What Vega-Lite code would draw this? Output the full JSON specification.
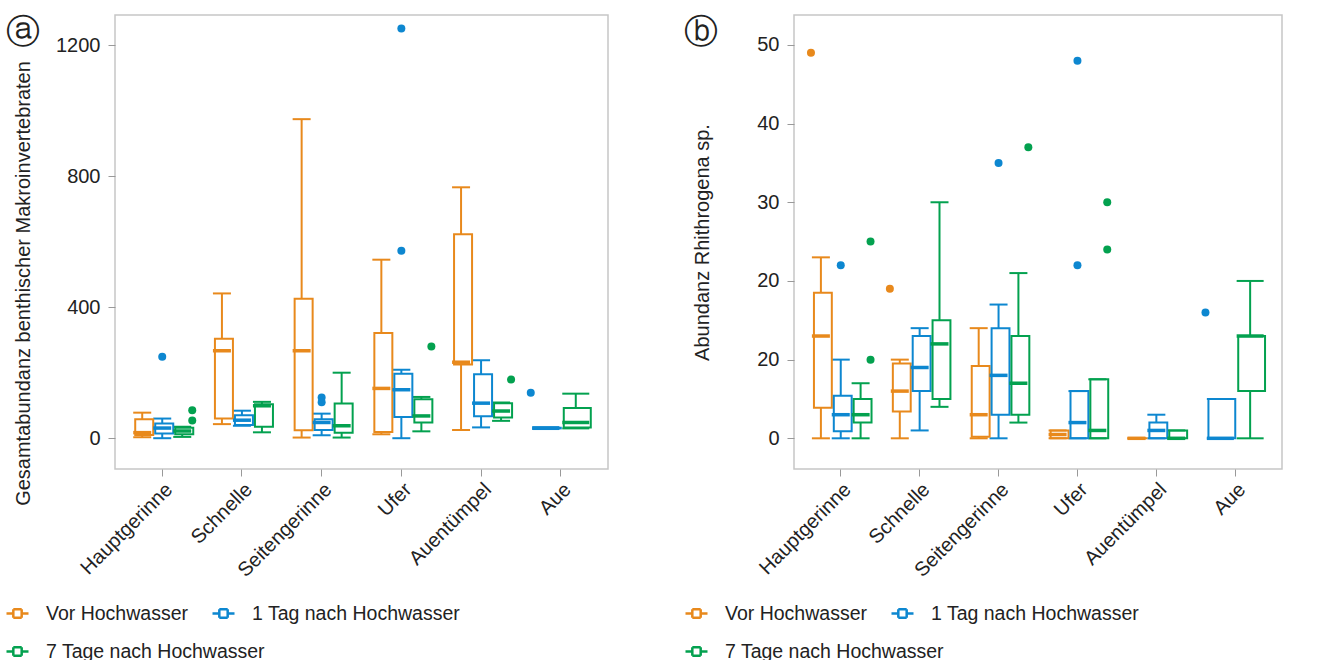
{
  "$schema": "https://vega.github.io/schema/vega-lite/v6.json",
  "padding": {"left": 4, "top": 14, "right": 0, "bottom": 0},
  "spacing": 74,
  "config": {
    "font": "Liberation Sans",
    "view": {"stroke": "#c6c6c6", "strokeWidth": 1.5},
    "axis": {"domain": false, "grid": false, "tickColor": "#999999", "tickSize": 7, "tickWidth": 1, "labelFontSize": 20, "labelColor": "#222222", "titleFontSize": 20, "titleFontWeight": "normal", "titleColor": "#222222", "labelFont": "Liberation Sans", "titleFont": "Liberation Sans"},
    "axisX": {"labelAngle": -45, "labelPadding": 3, "title": null},
    "axisY": {"labelPadding": 8, "format": "d"},
    "title": {"font": "DejaVu Sans", "fontSize": 34, "fontWeight": "normal", "color": "#222222"},
    "legend": {"title": null, "orient": "none", "direction": "horizontal", "padding": 0, "symbolType": "M-1,0H-0.38M0.38,0H1M-0.38,-0.38H0.38M0.38,-0.38V0.38M0.38,0.38H-0.38M-0.38,0.38V-0.38", "symbolSize": 484, "symbolStrokeWidth": 2.5, "labelFontSize": 19.5, "labelFont": "Liberation Sans", "labelColor": "#222222", "labelOffset": 16, "columnPadding": 19, "labelLimit": 400},
    "tick": {"opacity": 1},
    "point": {"opacity": 1},
    "bar": {"opacity": 1},
    "rule": {"opacity": 1}
  },
  "datasets": {
    "boxes": [
      {"panel": "a", "habitat": "Hauptgerinne", "group": "Vor Hochwasser", "min": 3, "q1": 10, "median": 17, "q3": 58, "max": 78},
      {"panel": "a", "habitat": "Hauptgerinne", "group": "1 Tag nach Hochwasser", "min": 0, "q1": 14, "median": 31, "q3": 45, "max": 60},
      {"panel": "a", "habitat": "Hauptgerinne", "group": "7 Tage nach Hochwasser", "min": 4, "q1": 12, "median": 22, "q3": 32, "max": 35},
      {"panel": "a", "habitat": "Schnelle", "group": "Vor Hochwasser", "min": 43, "q1": 60, "median": 267, "q3": 304, "max": 442},
      {"panel": "a", "habitat": "Schnelle", "group": "1 Tag nach Hochwasser", "min": 38, "q1": 40, "median": 55, "q3": 70, "max": 84},
      {"panel": "a", "habitat": "Schnelle", "group": "7 Tage nach Hochwasser", "min": 18, "q1": 35, "median": 99, "q3": 104, "max": 111},
      {"panel": "a", "habitat": "Seitengerinne", "group": "Vor Hochwasser", "min": 2, "q1": 24, "median": 267, "q3": 426, "max": 974},
      {"panel": "a", "habitat": "Seitengerinne", "group": "1 Tag nach Hochwasser", "min": 9, "q1": 25, "median": 48, "q3": 58, "max": 75},
      {"panel": "a", "habitat": "Seitengerinne", "group": "7 Tage nach Hochwasser", "min": 2, "q1": 17, "median": 38, "q3": 106, "max": 200},
      {"panel": "a", "habitat": "Ufer", "group": "Vor Hochwasser", "min": 12, "q1": 19, "median": 152, "q3": 321, "max": 545},
      {"panel": "a", "habitat": "Ufer", "group": "1 Tag nach Hochwasser", "min": 0, "q1": 65, "median": 148, "q3": 197, "max": 209},
      {"panel": "a", "habitat": "Ufer", "group": "7 Tage nach Hochwasser", "min": 21, "q1": 48, "median": 68, "q3": 119, "max": 126},
      {"panel": "a", "habitat": "Auentümpel", "group": "Vor Hochwasser", "min": 25, "q1": 225, "median": 232, "q3": 623, "max": 766},
      {"panel": "a", "habitat": "Auentümpel", "group": "1 Tag nach Hochwasser", "min": 33, "q1": 67, "median": 107, "q3": 195, "max": 238},
      {"panel": "a", "habitat": "Auentümpel", "group": "7 Tage nach Hochwasser", "min": 53, "q1": 63, "median": 83, "q3": 107, "max": 109},
      {"panel": "a", "habitat": "Aue", "group": "1 Tag nach Hochwasser", "min": 28, "q1": 30, "median": 31, "q3": 32, "max": 33},
      {"panel": "a", "habitat": "Aue", "group": "7 Tage nach Hochwasser", "min": 30, "q1": 33, "median": 48, "q3": 92, "max": 136},
      {"panel": "b", "habitat": "Hauptgerinne", "group": "Vor Hochwasser", "min": 0, "q1": 3.9, "median": 13, "q3": 18.5, "max": 23},
      {"panel": "b", "habitat": "Hauptgerinne", "group": "1 Tag nach Hochwasser", "min": 0, "q1": 0.9, "median": 3, "q3": 5.4, "max": 10},
      {"panel": "b", "habitat": "Hauptgerinne", "group": "7 Tage nach Hochwasser", "min": 0, "q1": 2, "median": 3, "q3": 5, "max": 7},
      {"panel": "b", "habitat": "Schnelle", "group": "Vor Hochwasser", "min": 0, "q1": 3.4, "median": 6, "q3": 9.5, "max": 10},
      {"panel": "b", "habitat": "Schnelle", "group": "1 Tag nach Hochwasser", "min": 1, "q1": 6, "median": 9, "q3": 13, "max": 14},
      {"panel": "b", "habitat": "Schnelle", "group": "7 Tage nach Hochwasser", "min": 4, "q1": 5, "median": 12, "q3": 15, "max": 30},
      {"panel": "b", "habitat": "Seitengerinne", "group": "Vor Hochwasser", "min": 0, "q1": 0.2, "median": 3, "q3": 9.2, "max": 14},
      {"panel": "b", "habitat": "Seitengerinne", "group": "1 Tag nach Hochwasser", "min": 0, "q1": 3, "median": 8, "q3": 14, "max": 17},
      {"panel": "b", "habitat": "Seitengerinne", "group": "7 Tage nach Hochwasser", "min": 2, "q1": 3, "median": 7, "q3": 13, "max": 21},
      {"panel": "b", "habitat": "Ufer", "group": "Vor Hochwasser", "min": 0, "q1": 0, "median": 0.5, "q3": 1, "max": 1},
      {"panel": "b", "habitat": "Ufer", "group": "1 Tag nach Hochwasser", "min": 0, "q1": 0, "median": 2, "q3": 6, "max": 6},
      {"panel": "b", "habitat": "Ufer", "group": "7 Tage nach Hochwasser", "min": 0, "q1": 0, "median": 1, "q3": 7.5, "max": 7.5},
      {"panel": "b", "habitat": "Auentümpel", "group": "Vor Hochwasser", "min": 0, "q1": 0, "median": 0, "q3": 0, "max": 0},
      {"panel": "b", "habitat": "Auentümpel", "group": "1 Tag nach Hochwasser", "min": 0, "q1": 0, "median": 1, "q3": 2, "max": 3},
      {"panel": "b", "habitat": "Auentümpel", "group": "7 Tage nach Hochwasser", "min": 0, "q1": 0, "median": 0, "q3": 1, "max": 1},
      {"panel": "b", "habitat": "Aue", "group": "1 Tag nach Hochwasser", "min": 0, "q1": 0, "median": 0, "q3": 5, "max": 5},
      {"panel": "b", "habitat": "Aue", "group": "7 Tage nach Hochwasser", "min": 0, "q1": 6, "median": 13, "q3": 13, "max": 20}
    ],
    "outliers": [
      {"panel": "a", "habitat": "Hauptgerinne", "group": "1 Tag nach Hochwasser", "value": 249},
      {"panel": "a", "habitat": "Hauptgerinne", "group": "7 Tage nach Hochwasser", "value": 85},
      {"panel": "a", "habitat": "Hauptgerinne", "group": "7 Tage nach Hochwasser", "value": 54},
      {"panel": "a", "habitat": "Seitengerinne", "group": "1 Tag nach Hochwasser", "value": 124},
      {"panel": "a", "habitat": "Seitengerinne", "group": "1 Tag nach Hochwasser", "value": 110},
      {"panel": "a", "habitat": "Ufer", "group": "1 Tag nach Hochwasser", "value": 572},
      {"panel": "a", "habitat": "Ufer", "group": "1 Tag nach Hochwasser", "value": 1251},
      {"panel": "a", "habitat": "Ufer", "group": "7 Tage nach Hochwasser", "value": 280},
      {"panel": "a", "habitat": "Auentümpel", "group": "7 Tage nach Hochwasser", "value": 179},
      {"panel": "a", "habitat": "Aue", "group": "1 Tag nach Hochwasser", "value": 139},
      {"panel": "b", "habitat": "Hauptgerinne", "group": "Vor Hochwasser", "value": 49},
      {"panel": "b", "habitat": "Hauptgerinne", "group": "1 Tag nach Hochwasser", "value": 22},
      {"panel": "b", "habitat": "Hauptgerinne", "group": "7 Tage nach Hochwasser", "value": 25},
      {"panel": "b", "habitat": "Hauptgerinne", "group": "7 Tage nach Hochwasser", "value": 10},
      {"panel": "b", "habitat": "Schnelle", "group": "Vor Hochwasser", "value": 19},
      {"panel": "b", "habitat": "Seitengerinne", "group": "1 Tag nach Hochwasser", "value": 35},
      {"panel": "b", "habitat": "Seitengerinne", "group": "7 Tage nach Hochwasser", "value": 37},
      {"panel": "b", "habitat": "Ufer", "group": "1 Tag nach Hochwasser", "value": 48},
      {"panel": "b", "habitat": "Ufer", "group": "1 Tag nach Hochwasser", "value": 22},
      {"panel": "b", "habitat": "Ufer", "group": "7 Tage nach Hochwasser", "value": 30},
      {"panel": "b", "habitat": "Ufer", "group": "7 Tage nach Hochwasser", "value": 24},
      {"panel": "b", "habitat": "Aue", "group": "1 Tag nach Hochwasser", "value": 16}
    ]
  },
  "resolve": {"scale": {"x": "independent", "y": "independent", "color": "independent", "stroke": "independent", "xOffset": "independent"}, "legend": {"color": "independent", "stroke": "independent"}},
  "hconcat": [
    {
      "width": 493, "height": 454,
      "title": {"text": "ⓐ", "anchor": "start", "frame": "bounds", "orient": "top", "offset": -35, "dx": 1},
      "encoding": {
        "x": {"field": "habitat", "type": "nominal", "scale": {"domain": ["Hauptgerinne", "Schnelle", "Seitengerinne", "Ufer", "Auentümpel", "Aue"], "paddingInner": 0.247, "paddingOuter": 0.216}, "axis": {"title": null}},
        "color": {"field": "group", "type": "nominal", "scale": {"domain": ["Vor Hochwasser", "1 Tag nach Hochwasser", "7 Tage nach Hochwasser"], "range": ["#E8891C", "#0D87D0", "#03A14F"]},
          "legend": {"values": ["Vor Hochwasser", "1 Tag nach Hochwasser"], "legendX": -110, "legendY": 586}}
      },
      "resolve": {"scale": {"xOffset": "independent"}},
      "layer": [
        {"data": {"name": "boxes"}, "transform": [{"filter": "datum.panel=='a' && datum.habitat!='Aue'"}], "mark": {"type": "rule", "strokeWidth": 2},
         "encoding": {"xOffset": {"field": "group", "type": "nominal", "scale": {"domain": ["Vor Hochwasser", "1 Tag nach Hochwasser", "7 Tage nach Hochwasser"], "paddingInner": 0, "paddingOuter": 0}},
           "y": {"field": "min", "type": "quantitative", "scale": {"domain": [-94, 1292], "nice": false, "zero": false}, "axis": {"title": "Gesamtabundanz benthischer Makroinvertebraten", "values": [0, 400, 800, 1200], "minExtent": 62, "maxExtent": 62, "titlePadding": 20, "titleY": 268}},
           "y2": {"field": "q1"}}},
        {"data": {"name": "boxes"}, "transform": [{"filter": "datum.panel=='a' && datum.habitat!='Aue'"}], "mark": {"type": "rule", "strokeWidth": 2},
         "encoding": {"xOffset": {"field": "group", "type": "nominal", "scale": {"domain": ["Vor Hochwasser", "1 Tag nach Hochwasser", "7 Tage nach Hochwasser"], "paddingInner": 0, "paddingOuter": 0}},
           "y": {"field": "q3", "type": "quantitative", "scale": {"domain": [-94, 1292], "nice": false, "zero": false}, "axis": {"title": "Gesamtabundanz benthischer Makroinvertebraten", "values": [0, 400, 800, 1200], "minExtent": 62, "maxExtent": 62, "titlePadding": 20, "titleY": 268}},
           "y2": {"field": "max"}}},
        {"data": {"name": "boxes"}, "transform": [{"filter": "datum.panel=='a' && datum.habitat!='Aue'"}], "mark": {"type": "tick", "thickness": 2, "size": 18},
         "encoding": {"xOffset": {"field": "group", "type": "nominal", "scale": {"domain": ["Vor Hochwasser", "1 Tag nach Hochwasser", "7 Tage nach Hochwasser"], "paddingInner": 0, "paddingOuter": 0}},
           "y": {"field": "min", "type": "quantitative", "scale": {"domain": [-94, 1292], "nice": false, "zero": false}, "axis": {"title": "Gesamtabundanz benthischer Makroinvertebraten", "values": [0, 400, 800, 1200], "minExtent": 62, "maxExtent": 62, "titlePadding": 20, "titleY": 268}}}},
        {"data": {"name": "boxes"}, "transform": [{"filter": "datum.panel=='a' && datum.habitat!='Aue'"}], "mark": {"type": "tick", "thickness": 2, "size": 18},
         "encoding": {"xOffset": {"field": "group", "type": "nominal", "scale": {"domain": ["Vor Hochwasser", "1 Tag nach Hochwasser", "7 Tage nach Hochwasser"], "paddingInner": 0, "paddingOuter": 0}},
           "y": {"field": "max", "type": "quantitative", "scale": {"domain": [-94, 1292], "nice": false, "zero": false}, "axis": {"title": "Gesamtabundanz benthischer Makroinvertebraten", "values": [0, 400, 800, 1200], "minExtent": 62, "maxExtent": 62, "titlePadding": 20, "titleY": 268}}}},
        {"data": {"name": "boxes"}, "transform": [{"filter": "datum.panel=='a' && datum.habitat!='Aue'"}], "mark": {"type": "bar", "filled": false, "strokeWidth": 2, "width": {"band": 0.9}},
         "encoding": {"xOffset": {"field": "group", "type": "nominal", "scale": {"domain": ["Vor Hochwasser", "1 Tag nach Hochwasser", "7 Tage nach Hochwasser"], "paddingInner": 0, "paddingOuter": 0}},
           "stroke": {"field": "group", "type": "nominal", "scale": {"domain": ["7 Tage nach Hochwasser", "Vor Hochwasser", "1 Tag nach Hochwasser"], "range": ["#03A14F", "#E8891C", "#0D87D0"]},
             "legend": {"values": ["7 Tage nach Hochwasser"], "legendX": -110, "legendY": 624}},
           "y": {"field": "q1", "type": "quantitative", "scale": {"domain": [-94, 1292], "nice": false, "zero": false}, "axis": {"title": "Gesamtabundanz benthischer Makroinvertebraten", "values": [0, 400, 800, 1200], "minExtent": 62, "maxExtent": 62, "titlePadding": 20, "titleY": 268}},
           "y2": {"field": "q3"}}},
        {"data": {"name": "boxes"}, "transform": [{"filter": "datum.panel=='a' && datum.habitat!='Aue'"}], "mark": {"type": "tick", "thickness": 3.5, "size": 18},
         "encoding": {"xOffset": {"field": "group", "type": "nominal", "scale": {"domain": ["Vor Hochwasser", "1 Tag nach Hochwasser", "7 Tage nach Hochwasser"], "paddingInner": 0, "paddingOuter": 0}},
           "y": {"field": "median", "type": "quantitative", "scale": {"domain": [-94, 1292], "nice": false, "zero": false}, "axis": {"title": "Gesamtabundanz benthischer Makroinvertebraten", "values": [0, 400, 800, 1200], "minExtent": 62, "maxExtent": 62, "titlePadding": 20, "titleY": 268}}}},
        {"data": {"name": "outliers"}, "transform": [{"filter": "datum.panel=='a' && datum.habitat!='Aue'"}], "mark": {"type": "point", "filled": true, "size": 64, "opacity": 1},
         "encoding": {"xOffset": {"field": "group", "type": "nominal", "scale": {"domain": ["Vor Hochwasser", "1 Tag nach Hochwasser", "7 Tage nach Hochwasser"], "paddingInner": 0, "paddingOuter": 0}},
           "y": {"field": "value", "type": "quantitative", "scale": {"domain": [-94, 1292], "nice": false, "zero": false}, "axis": {"title": "Gesamtabundanz benthischer Makroinvertebraten", "values": [0, 400, 800, 1200], "minExtent": 62, "maxExtent": 62, "titlePadding": 20, "titleY": 268}}}},
        {"data": {"name": "boxes"}, "transform": [{"filter": "datum.panel=='a' && datum.habitat=='Aue'"}], "mark": {"type": "rule", "strokeWidth": 2},
         "encoding": {"xOffset": {"field": "group", "type": "nominal", "scale": {"domain": ["1 Tag nach Hochwasser", "7 Tage nach Hochwasser"], "paddingInner": 0, "paddingOuter": 0}},
           "y": {"field": "min", "type": "quantitative", "scale": {"domain": [-94, 1292], "nice": false, "zero": false}, "axis": {"title": "Gesamtabundanz benthischer Makroinvertebraten", "values": [0, 400, 800, 1200], "minExtent": 62, "maxExtent": 62, "titlePadding": 20, "titleY": 268}},
           "y2": {"field": "q1"}}},
        {"data": {"name": "boxes"}, "transform": [{"filter": "datum.panel=='a' && datum.habitat=='Aue'"}], "mark": {"type": "rule", "strokeWidth": 2},
         "encoding": {"xOffset": {"field": "group", "type": "nominal", "scale": {"domain": ["1 Tag nach Hochwasser", "7 Tage nach Hochwasser"], "paddingInner": 0, "paddingOuter": 0}},
           "y": {"field": "q3", "type": "quantitative", "scale": {"domain": [-94, 1292], "nice": false, "zero": false}, "axis": {"title": "Gesamtabundanz benthischer Makroinvertebraten", "values": [0, 400, 800, 1200], "minExtent": 62, "maxExtent": 62, "titlePadding": 20, "titleY": 268}},
           "y2": {"field": "max"}}},
        {"data": {"name": "boxes"}, "transform": [{"filter": "datum.panel=='a' && datum.habitat=='Aue'"}], "mark": {"type": "tick", "thickness": 2, "size": 27},
         "encoding": {"xOffset": {"field": "group", "type": "nominal", "scale": {"domain": ["1 Tag nach Hochwasser", "7 Tage nach Hochwasser"], "paddingInner": 0, "paddingOuter": 0}},
           "y": {"field": "min", "type": "quantitative", "scale": {"domain": [-94, 1292], "nice": false, "zero": false}, "axis": {"title": "Gesamtabundanz benthischer Makroinvertebraten", "values": [0, 400, 800, 1200], "minExtent": 62, "maxExtent": 62, "titlePadding": 20, "titleY": 268}}}},
        {"data": {"name": "boxes"}, "transform": [{"filter": "datum.panel=='a' && datum.habitat=='Aue'"}], "mark": {"type": "tick", "thickness": 2, "size": 27},
         "encoding": {"xOffset": {"field": "group", "type": "nominal", "scale": {"domain": ["1 Tag nach Hochwasser", "7 Tage nach Hochwasser"], "paddingInner": 0, "paddingOuter": 0}},
           "y": {"field": "max", "type": "quantitative", "scale": {"domain": [-94, 1292], "nice": false, "zero": false}, "axis": {"title": "Gesamtabundanz benthischer Makroinvertebraten", "values": [0, 400, 800, 1200], "minExtent": 62, "maxExtent": 62, "titlePadding": 20, "titleY": 268}}}},
        {"data": {"name": "boxes"}, "transform": [{"filter": "datum.panel=='a' && datum.habitat=='Aue'"}], "mark": {"type": "bar", "filled": false, "strokeWidth": 2, "width": {"band": 0.9}},
         "encoding": {"xOffset": {"field": "group", "type": "nominal", "scale": {"domain": ["1 Tag nach Hochwasser", "7 Tage nach Hochwasser"], "paddingInner": 0, "paddingOuter": 0}},
           "stroke": {"field": "group", "type": "nominal", "scale": {"domain": ["7 Tage nach Hochwasser", "Vor Hochwasser", "1 Tag nach Hochwasser"], "range": ["#03A14F", "#E8891C", "#0D87D0"]}},
           "y": {"field": "q1", "type": "quantitative", "scale": {"domain": [-94, 1292], "nice": false, "zero": false}, "axis": {"title": "Gesamtabundanz benthischer Makroinvertebraten", "values": [0, 400, 800, 1200], "minExtent": 62, "maxExtent": 62, "titlePadding": 20, "titleY": 268}},
           "y2": {"field": "q3"}}},
        {"data": {"name": "boxes"}, "transform": [{"filter": "datum.panel=='a' && datum.habitat=='Aue'"}], "mark": {"type": "tick", "thickness": 3.5, "size": 27},
         "encoding": {"xOffset": {"field": "group", "type": "nominal", "scale": {"domain": ["1 Tag nach Hochwasser", "7 Tage nach Hochwasser"], "paddingInner": 0, "paddingOuter": 0}},
           "y": {"field": "median", "type": "quantitative", "scale": {"domain": [-94, 1292], "nice": false, "zero": false}, "axis": {"title": "Gesamtabundanz benthischer Makroinvertebraten", "values": [0, 400, 800, 1200], "minExtent": 62, "maxExtent": 62, "titlePadding": 20, "titleY": 268}}}},
        {"data": {"name": "outliers"}, "transform": [{"filter": "datum.panel=='a' && datum.habitat=='Aue'"}], "mark": {"type": "point", "filled": true, "size": 64, "opacity": 1},
         "encoding": {"xOffset": {"field": "group", "type": "nominal", "scale": {"domain": ["1 Tag nach Hochwasser", "7 Tage nach Hochwasser"], "paddingInner": 0, "paddingOuter": 0}},
           "y": {"field": "value", "type": "quantitative", "scale": {"domain": [-94, 1292], "nice": false, "zero": false}, "axis": {"title": "Gesamtabundanz benthischer Makroinvertebraten", "values": [0, 400, 800, 1200], "minExtent": 62, "maxExtent": 62, "titlePadding": 20, "titleY": 268}}}}
      ]
    },
    {
      "width": 488, "height": 454,
      "title": {"text": "ⓑ", "anchor": "start", "frame": "bounds", "orient": "top", "offset": -35, "dx": 0},
      "encoding": {
        "x": {"field": "habitat", "type": "nominal", "scale": {"domain": ["Hauptgerinne", "Schnelle", "Seitengerinne", "Ufer", "Auentümpel", "Aue"], "paddingInner": 0.245, "paddingOuter": 0.215}, "axis": {"title": null}},
        "color": {"field": "group", "type": "nominal", "scale": {"domain": ["Vor Hochwasser", "1 Tag nach Hochwasser", "7 Tage nach Hochwasser"], "range": ["#E8891C", "#0D87D0", "#03A14F"]},
          "legend": {"values": ["Vor Hochwasser", "1 Tag nach Hochwasser"], "legendX": -110, "legendY": 586}}
      },
      "resolve": {"scale": {"xOffset": "independent"}},
      "layer": [
        {"data": {"name": "boxes"}, "transform": [{"filter": "datum.panel=='b' && datum.habitat!='Aue'"}], "mark": {"type": "rule", "strokeWidth": 2},
         "encoding": {"xOffset": {"field": "group", "type": "nominal", "scale": {"domain": ["Vor Hochwasser", "1 Tag nach Hochwasser", "7 Tage nach Hochwasser"], "paddingInner": 0, "paddingOuter": 0}},
           "y": {"field": "min", "type": "quantitative", "scale": {"domain": [-3.9, 53.8], "nice": false, "zero": false}, "axis": {"title": "Abundanz Rhithrogena sp.", "values": [0, 10, 20, 30, 40, 50], "labelExpr": "datum.value == 10 ? '20' : datum.label", "minExtent": 62, "maxExtent": 62, "titlePadding": 20}},
           "y2": {"field": "q1"}}},
        {"data": {"name": "boxes"}, "transform": [{"filter": "datum.panel=='b' && datum.habitat!='Aue'"}], "mark": {"type": "rule", "strokeWidth": 2},
         "encoding": {"xOffset": {"field": "group", "type": "nominal", "scale": {"domain": ["Vor Hochwasser", "1 Tag nach Hochwasser", "7 Tage nach Hochwasser"], "paddingInner": 0, "paddingOuter": 0}},
           "y": {"field": "q3", "type": "quantitative", "scale": {"domain": [-3.9, 53.8], "nice": false, "zero": false}, "axis": {"title": "Abundanz Rhithrogena sp.", "values": [0, 10, 20, 30, 40, 50], "labelExpr": "datum.value == 10 ? '20' : datum.label", "minExtent": 62, "maxExtent": 62, "titlePadding": 20}},
           "y2": {"field": "max"}}},
        {"data": {"name": "boxes"}, "transform": [{"filter": "datum.panel=='b' && datum.habitat!='Aue'"}], "mark": {"type": "tick", "thickness": 2, "size": 18},
         "encoding": {"xOffset": {"field": "group", "type": "nominal", "scale": {"domain": ["Vor Hochwasser", "1 Tag nach Hochwasser", "7 Tage nach Hochwasser"], "paddingInner": 0, "paddingOuter": 0}},
           "y": {"field": "min", "type": "quantitative", "scale": {"domain": [-3.9, 53.8], "nice": false, "zero": false}, "axis": {"title": "Abundanz Rhithrogena sp.", "values": [0, 10, 20, 30, 40, 50], "labelExpr": "datum.value == 10 ? '20' : datum.label", "minExtent": 62, "maxExtent": 62, "titlePadding": 20}}}},
        {"data": {"name": "boxes"}, "transform": [{"filter": "datum.panel=='b' && datum.habitat!='Aue'"}], "mark": {"type": "tick", "thickness": 2, "size": 18},
         "encoding": {"xOffset": {"field": "group", "type": "nominal", "scale": {"domain": ["Vor Hochwasser", "1 Tag nach Hochwasser", "7 Tage nach Hochwasser"], "paddingInner": 0, "paddingOuter": 0}},
           "y": {"field": "max", "type": "quantitative", "scale": {"domain": [-3.9, 53.8], "nice": false, "zero": false}, "axis": {"title": "Abundanz Rhithrogena sp.", "values": [0, 10, 20, 30, 40, 50], "labelExpr": "datum.value == 10 ? '20' : datum.label", "minExtent": 62, "maxExtent": 62, "titlePadding": 20}}}},
        {"data": {"name": "boxes"}, "transform": [{"filter": "datum.panel=='b' && datum.habitat!='Aue'"}], "mark": {"type": "bar", "filled": false, "strokeWidth": 2, "width": {"band": 0.9}},
         "encoding": {"xOffset": {"field": "group", "type": "nominal", "scale": {"domain": ["Vor Hochwasser", "1 Tag nach Hochwasser", "7 Tage nach Hochwasser"], "paddingInner": 0, "paddingOuter": 0}},
           "stroke": {"field": "group", "type": "nominal", "scale": {"domain": ["7 Tage nach Hochwasser", "Vor Hochwasser", "1 Tag nach Hochwasser"], "range": ["#03A14F", "#E8891C", "#0D87D0"]},
             "legend": {"values": ["7 Tage nach Hochwasser"], "legendX": -110, "legendY": 624}},
           "y": {"field": "q1", "type": "quantitative", "scale": {"domain": [-3.9, 53.8], "nice": false, "zero": false}, "axis": {"title": "Abundanz Rhithrogena sp.", "values": [0, 10, 20, 30, 40, 50], "labelExpr": "datum.value == 10 ? '20' : datum.label", "minExtent": 62, "maxExtent": 62, "titlePadding": 20}},
           "y2": {"field": "q3"}}},
        {"data": {"name": "boxes"}, "transform": [{"filter": "datum.panel=='b' && datum.habitat!='Aue'"}], "mark": {"type": "tick", "thickness": 3.5, "size": 18},
         "encoding": {"xOffset": {"field": "group", "type": "nominal", "scale": {"domain": ["Vor Hochwasser", "1 Tag nach Hochwasser", "7 Tage nach Hochwasser"], "paddingInner": 0, "paddingOuter": 0}},
           "y": {"field": "median", "type": "quantitative", "scale": {"domain": [-3.9, 53.8], "nice": false, "zero": false}, "axis": {"title": "Abundanz Rhithrogena sp.", "values": [0, 10, 20, 30, 40, 50], "labelExpr": "datum.value == 10 ? '20' : datum.label", "minExtent": 62, "maxExtent": 62, "titlePadding": 20}}}},
        {"data": {"name": "outliers"}, "transform": [{"filter": "datum.panel=='b' && datum.habitat!='Aue'"}], "mark": {"type": "point", "filled": true, "size": 64, "opacity": 1},
         "encoding": {"xOffset": {"field": "group", "type": "nominal", "scale": {"domain": ["Vor Hochwasser", "1 Tag nach Hochwasser", "7 Tage nach Hochwasser"], "paddingInner": 0, "paddingOuter": 0}},
           "y": {"field": "value", "type": "quantitative", "scale": {"domain": [-3.9, 53.8], "nice": false, "zero": false}, "axis": {"title": "Abundanz Rhithrogena sp.", "values": [0, 10, 20, 30, 40, 50], "labelExpr": "datum.value == 10 ? '20' : datum.label", "minExtent": 62, "maxExtent": 62, "titlePadding": 20}}}},
        {"data": {"name": "boxes"}, "transform": [{"filter": "datum.panel=='b' && datum.habitat=='Aue'"}], "mark": {"type": "rule", "strokeWidth": 2},
         "encoding": {"xOffset": {"field": "group", "type": "nominal", "scale": {"domain": ["1 Tag nach Hochwasser", "7 Tage nach Hochwasser"], "paddingInner": 0, "paddingOuter": 0}},
           "y": {"field": "min", "type": "quantitative", "scale": {"domain": [-3.9, 53.8], "nice": false, "zero": false}, "axis": {"title": "Abundanz Rhithrogena sp.", "values": [0, 10, 20, 30, 40, 50], "labelExpr": "datum.value == 10 ? '20' : datum.label", "minExtent": 62, "maxExtent": 62, "titlePadding": 20}},
           "y2": {"field": "q1"}}},
        {"data": {"name": "boxes"}, "transform": [{"filter": "datum.panel=='b' && datum.habitat=='Aue'"}], "mark": {"type": "rule", "strokeWidth": 2},
         "encoding": {"xOffset": {"field": "group", "type": "nominal", "scale": {"domain": ["1 Tag nach Hochwasser", "7 Tage nach Hochwasser"], "paddingInner": 0, "paddingOuter": 0}},
           "y": {"field": "q3", "type": "quantitative", "scale": {"domain": [-3.9, 53.8], "nice": false, "zero": false}, "axis": {"title": "Abundanz Rhithrogena sp.", "values": [0, 10, 20, 30, 40, 50], "labelExpr": "datum.value == 10 ? '20' : datum.label", "minExtent": 62, "maxExtent": 62, "titlePadding": 20}},
           "y2": {"field": "max"}}},
        {"data": {"name": "boxes"}, "transform": [{"filter": "datum.panel=='b' && datum.habitat=='Aue'"}], "mark": {"type": "tick", "thickness": 2, "size": 27},
         "encoding": {"xOffset": {"field": "group", "type": "nominal", "scale": {"domain": ["1 Tag nach Hochwasser", "7 Tage nach Hochwasser"], "paddingInner": 0, "paddingOuter": 0}},
           "y": {"field": "min", "type": "quantitative", "scale": {"domain": [-3.9, 53.8], "nice": false, "zero": false}, "axis": {"title": "Abundanz Rhithrogena sp.", "values": [0, 10, 20, 30, 40, 50], "labelExpr": "datum.value == 10 ? '20' : datum.label", "minExtent": 62, "maxExtent": 62, "titlePadding": 20}}}},
        {"data": {"name": "boxes"}, "transform": [{"filter": "datum.panel=='b' && datum.habitat=='Aue'"}], "mark": {"type": "tick", "thickness": 2, "size": 27},
         "encoding": {"xOffset": {"field": "group", "type": "nominal", "scale": {"domain": ["1 Tag nach Hochwasser", "7 Tage nach Hochwasser"], "paddingInner": 0, "paddingOuter": 0}},
           "y": {"field": "max", "type": "quantitative", "scale": {"domain": [-3.9, 53.8], "nice": false, "zero": false}, "axis": {"title": "Abundanz Rhithrogena sp.", "values": [0, 10, 20, 30, 40, 50], "labelExpr": "datum.value == 10 ? '20' : datum.label", "minExtent": 62, "maxExtent": 62, "titlePadding": 20}}}},
        {"data": {"name": "boxes"}, "transform": [{"filter": "datum.panel=='b' && datum.habitat=='Aue'"}], "mark": {"type": "bar", "filled": false, "strokeWidth": 2, "width": {"band": 0.9}},
         "encoding": {"xOffset": {"field": "group", "type": "nominal", "scale": {"domain": ["1 Tag nach Hochwasser", "7 Tage nach Hochwasser"], "paddingInner": 0, "paddingOuter": 0}},
           "stroke": {"field": "group", "type": "nominal", "scale": {"domain": ["7 Tage nach Hochwasser", "Vor Hochwasser", "1 Tag nach Hochwasser"], "range": ["#03A14F", "#E8891C", "#0D87D0"]}},
           "y": {"field": "q1", "type": "quantitative", "scale": {"domain": [-3.9, 53.8], "nice": false, "zero": false}, "axis": {"title": "Abundanz Rhithrogena sp.", "values": [0, 10, 20, 30, 40, 50], "labelExpr": "datum.value == 10 ? '20' : datum.label", "minExtent": 62, "maxExtent": 62, "titlePadding": 20}},
           "y2": {"field": "q3"}}},
        {"data": {"name": "boxes"}, "transform": [{"filter": "datum.panel=='b' && datum.habitat=='Aue'"}], "mark": {"type": "tick", "thickness": 3.5, "size": 27},
         "encoding": {"xOffset": {"field": "group", "type": "nominal", "scale": {"domain": ["1 Tag nach Hochwasser", "7 Tage nach Hochwasser"], "paddingInner": 0, "paddingOuter": 0}},
           "y": {"field": "median", "type": "quantitative", "scale": {"domain": [-3.9, 53.8], "nice": false, "zero": false}, "axis": {"title": "Abundanz Rhithrogena sp.", "values": [0, 10, 20, 30, 40, 50], "labelExpr": "datum.value == 10 ? '20' : datum.label", "minExtent": 62, "maxExtent": 62, "titlePadding": 20}}}},
        {"data": {"name": "outliers"}, "transform": [{"filter": "datum.panel=='b' && datum.habitat=='Aue'"}], "mark": {"type": "point", "filled": true, "size": 64, "opacity": 1},
         "encoding": {"xOffset": {"field": "group", "type": "nominal", "scale": {"domain": ["1 Tag nach Hochwasser", "7 Tage nach Hochwasser"], "paddingInner": 0, "paddingOuter": 0}},
           "y": {"field": "value", "type": "quantitative", "scale": {"domain": [-3.9, 53.8], "nice": false, "zero": false}, "axis": {"title": "Abundanz Rhithrogena sp.", "values": [0, 10, 20, 30, 40, 50], "labelExpr": "datum.value == 10 ? '20' : datum.label", "minExtent": 62, "maxExtent": 62, "titlePadding": 20}}}}
      ]
    }
  ]
}
